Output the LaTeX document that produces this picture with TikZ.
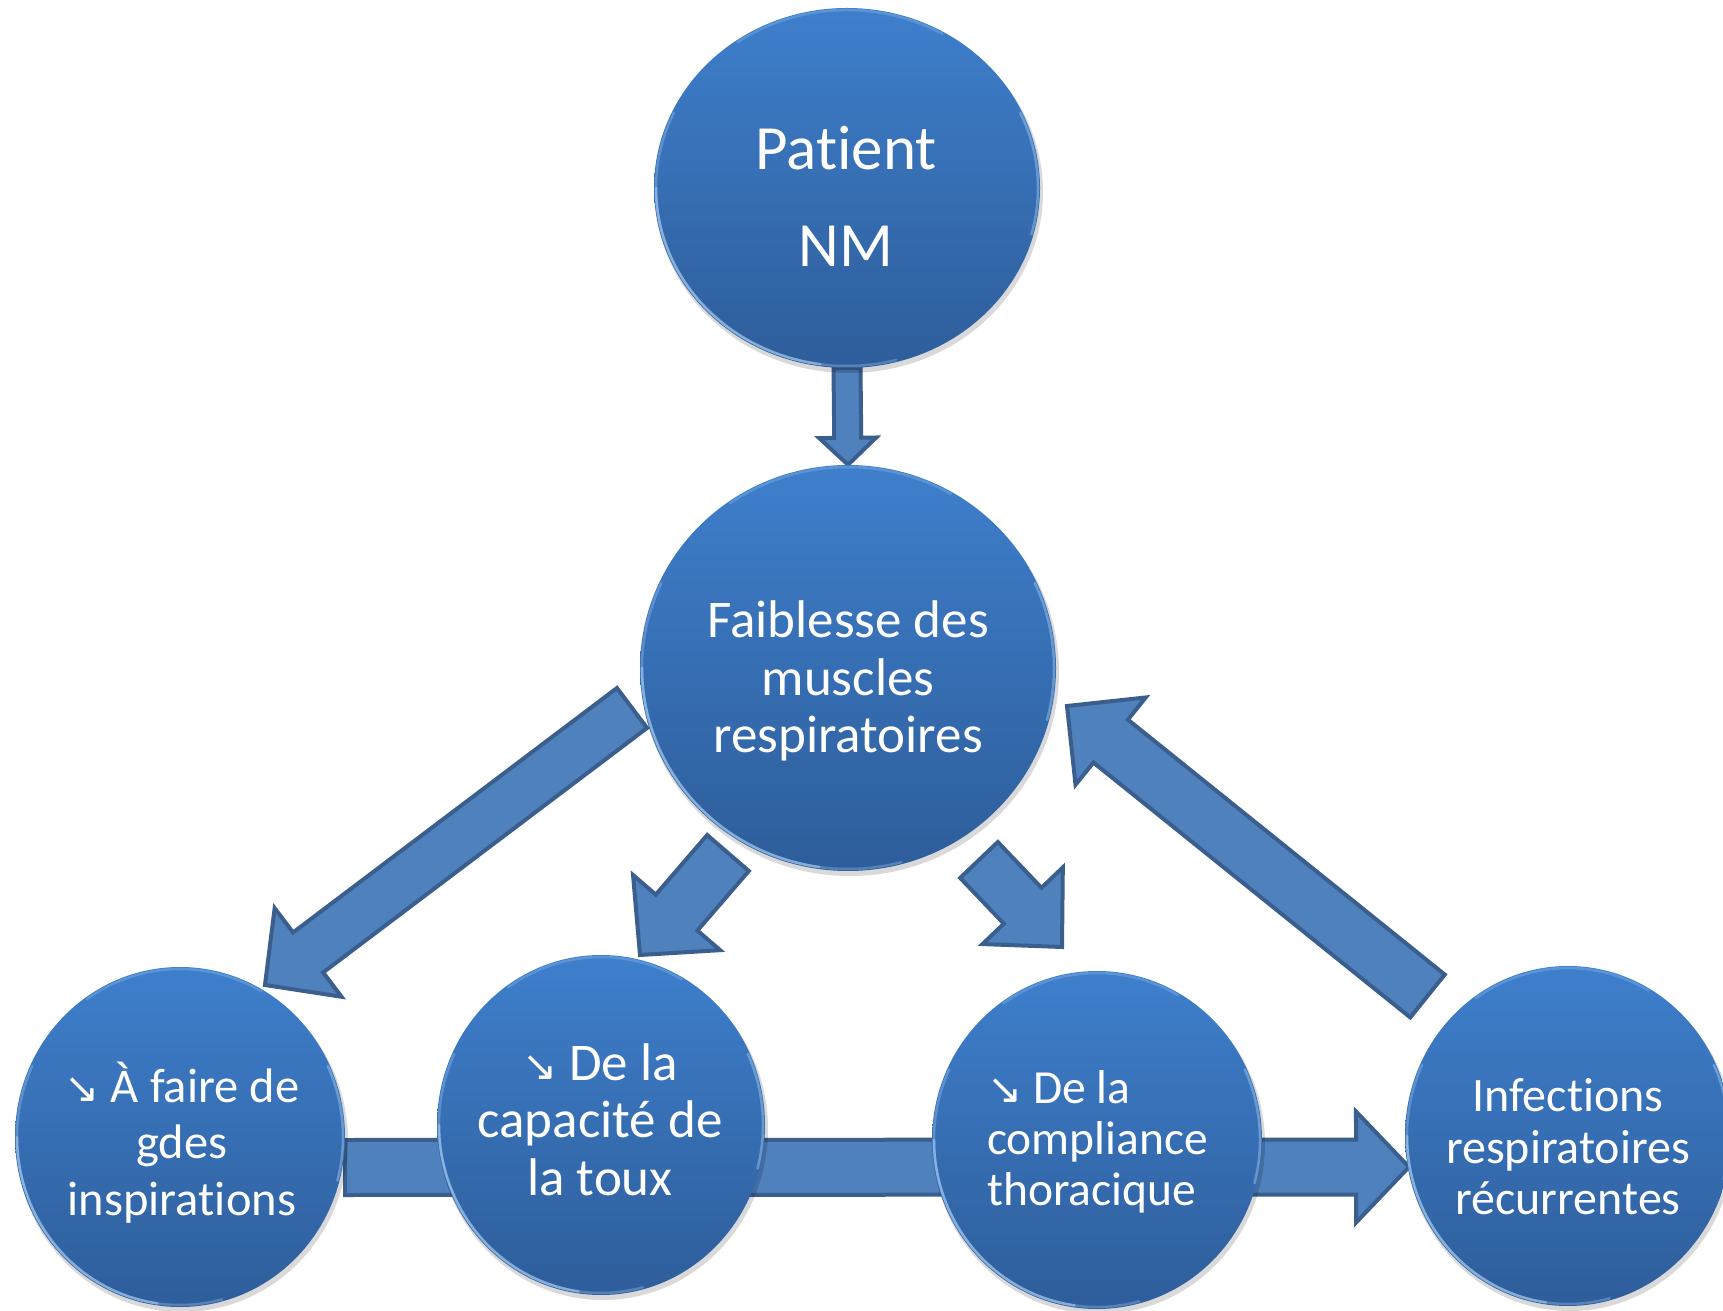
\documentclass[tikz,border=0pt]{standalone}
\usepackage{fontspec}
\setmainfont{Carlito}[Ligatures={NoCommon,NoContextual}, Contextuals={NoAlternate}]
\newfontfamily\arrfont{DejaVu Sans}
\usetikzlibrary{shapes.geometric,calc}
\pgfdeclarelayer{bgw}
\pgfdeclarelayer{bga}
\pgfsetlayers{bgw,bga,main}
\definecolor{ctop}{HTML}{3E7FCC}
\definecolor{cbot}{HTML}{2E5D9A}
\definecolor{afill}{HTML}{4F81BD}
\definecolor{aline}{HTML}{3A5F8F}
\definecolor{rimc}{HTML}{B4D8FA}
\tikzset{
  ball/.style={ellipse, inner sep=0pt, top color=ctop, bottom color=cbot},
  btext/.style={text=white, align=center, inner sep=0pt},
  barrow/.style={fill=afill, draw=aline, line width=4pt, line join=miter},
  rim/.style={draw=rimc, line width=2.5pt, line cap=round},
}
\newcommand\dn{{\arrfont\fontsize{42}{42}\selectfont ↘}}
\newcommand\blockarr[5]{%
  \coordinate (bac) at ($(#2)!#5!(#1)$);
  \draw[barrow] ($(#1)!#3!90:(#2)$) -- ($(bac)!#3!90:(#2)$) -- ($(bac)!#4!90:(#2)$)
     -- (#2) -- ($(bac)!#4!-90:(#2)$) -- ($(bac)!#3!-90:(#2)$) -- ($(#1)!#3!-90:(#2)$) -- cycle;}
\newcommand\ball[5]{%
  \fill[black, opacity=0.15] (#2+2,#3-4) ellipse [x radius=#4+1, y radius=#5+1];
  \node[ball, minimum width={2*#4pt}, minimum height={2*#5pt}] (#1) at (#2,#3) {};
  \pgfmathsetmacro\rxi{#4-2}\pgfmathsetmacro\ryi{#5-2}
  \draw[rim, opacity=0.3] ($(#1.center)+(155:\rxi pt and \ryi pt)$) arc[start angle=155, end angle=285, x radius=\rxi, y radius=\ryi];
  \draw[rim, opacity=0.5] ($(#1.center)+(180:\rxi pt and \ryi pt)$) arc[start angle=180, end angle=262, x radius=\rxi, y radius=\ryi];
  \draw[rim, opacity=0.4] ($(#1.center)+(-15:\rxi pt and \ryi pt)$) arc[start angle=-15, end angle=25, x radius=\rxi, y radius=\ryi];
  \draw[rim, opacity=0.25] ($(#1.center)+(60:\rxi pt and \ryi pt)$) arc[start angle=60, end angle=125, x radius=\rxi, y radius=\ryi];
}
\begin{document}
\begin{tikzpicture}[x=1pt,y=1pt]
\begin{pgfonlayer}{bgw}
\fill[white] (0,0) rectangle (1723,1310);
\end{pgfonlayer}
\useasboundingbox (0,0) rectangle (1723,1310);

\ball{patient}{847}{1122}{193}{180}
\ball{faib}{848}{642}{208}{203}
\ball{c1}{180}{173}{165}{170}
\ball{c2}{601}{185}{164}{170}
\ball{c3}{1097}{170}{165}{169}
\ball{c4}{1568}{174}{163}{170}

\node[btext, font=\fontsize{63}{97}\selectfont] (patientT) at (846,1111) {\strut Patient\\\strut NM};
\node[btext, font=\fontsize{53}{57.5}\selectfont] (faibT) at (848,626) {\strut Faiblesse des\\\strut muscles\\\strut respiratoires};
\node[btext, font=\fontsize{48.5}{56.5}\selectfont] (c1T) at (182,163) {\strut\dn\ À faire de\\\strut gdes\\\strut inspirations};
\node[btext, font=\fontsize{53}{57.5}\selectfont] (c2T) at (600,184) {\strut\dn\ De la\\\strut capacité de\\\strut la toux};
\node[btext, align=left, anchor=west, font=\fontsize{47.5}{51}\selectfont] (c3T) at (987,166) {\strut\dn\ De la\\\strut compliance\\\strut thoracique};
\node[btext, font=\fontsize{48}{51.5}\selectfont] (c4T) at (1568,157) {\strut Infections\\\strut respiratoires\\\strut récurrentes};

\coordinate (a2s) at ($(faib.center)+(-216,-40)$);
\coordinate (a2e) at ($(c1.center)+(85,152)$);
\coordinate (a3s) at ($(faib.center)+(-120,-185)$);
\coordinate (a3e) at ($(c2.center)+(39,170)$);
\coordinate (a4s) at ($(faib.center)+(131,-192)$);
\coordinate (a4e) at ($(c3.center)+(-35,193)$);
\coordinate (a5s) at ($(c4.center)+(-140.5,140)$);
\coordinate (a5e) at ($(faib.center)+(219,-38)$);
\coordinate (a6s) at ($(c1.center)+(165,-30.5)$);
\coordinate (a6e) at ($(c4.center)+(-159,-31)$);

\begin{pgfonlayer}{bga}
\blockarr{patient.south}{faib.north}{13.5pt}{28.5pt}{27pt}
\blockarr{a2s}{a2e}{25pt}{55.5pt}{54pt}
\blockarr{a3s}{a3e}{27.5pt}{57.5pt}{56pt}
\blockarr{a4s}{a4e}{26pt}{55.5pt}{57pt}
\blockarr{a5s}{a5e}{27.5pt}{56pt}{56pt}
\blockarr{a6s}{a6e}{27.5pt}{55.5pt}{53pt}
\end{pgfonlayer}
\end{tikzpicture}
\end{document}
